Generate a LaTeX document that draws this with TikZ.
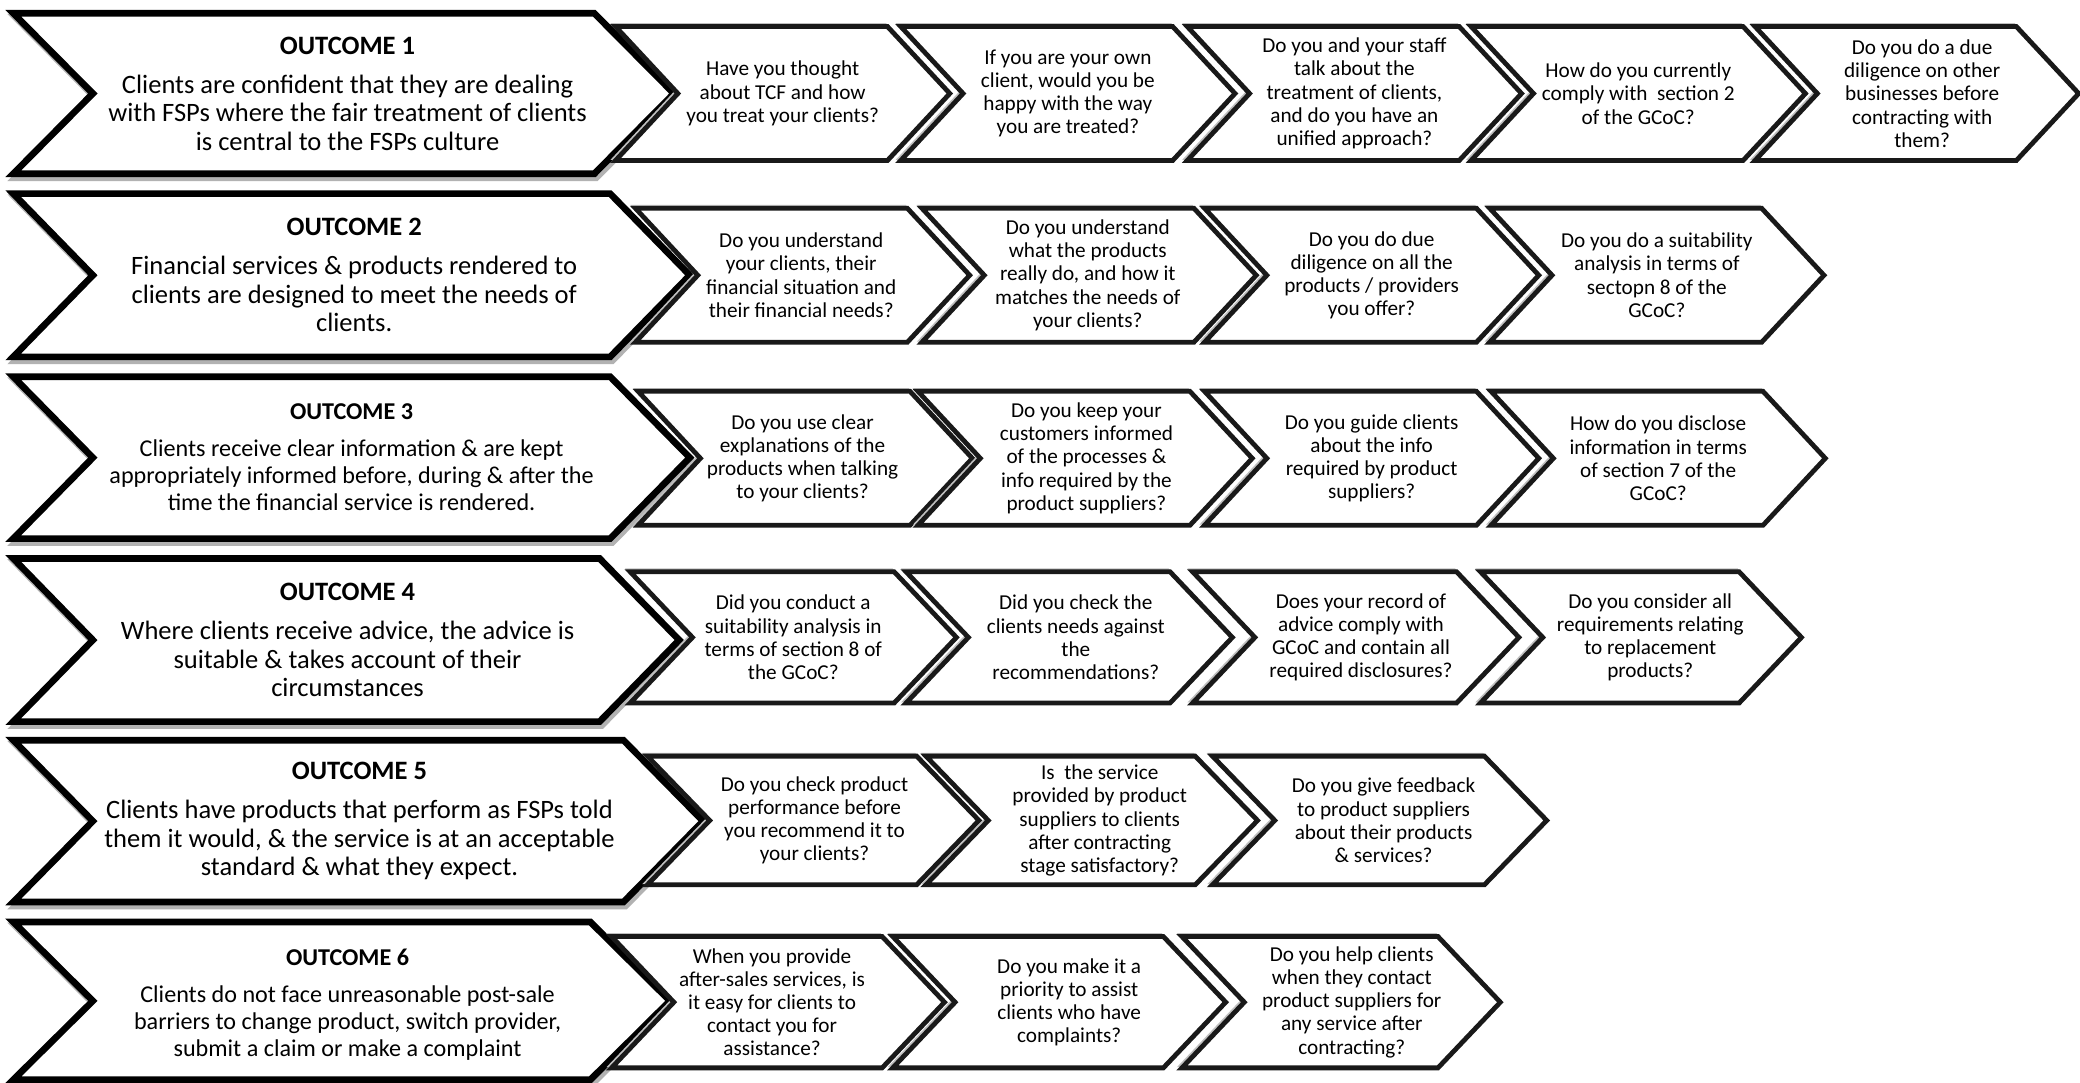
\documentclass[tikz,border=0pt]{standalone}
\usepackage{fontspec}
\setmainfont{Carlito}
\begin{document}
\begin{tikzpicture}[x=1pt,y=1pt,
  outc/.style={draw=black,fill=white,line width=5pt,line join=miter},
  outsh/.style={draw=black!30,line width=5pt,line join=miter},
  qc/.style={draw=black!90,fill=white,line width=3.6pt,line join=miter},
  qsh/.style={draw=black!25,line width=2pt,line join=miter},
  otext/.style={align=center,inner sep=0pt,font=\fontsize{20}{21.5}\selectfont},
  otextsm/.style={align=center,inner sep=0pt,font=\fontsize{18.2}{20.3}\selectfont},
  qtext/.style={align=center,inner sep=0pt,font=\fontsize{16}{17.5}\selectfont}]
\useasboundingbox[fill=white] (0,0) rectangle (1568,-816);
% #1 style, #2 left x, #3 top, #4 bottom, #5 width to tip, #6 point depth
\newcommand\chevshape[6]{%
  \pgfmathsetmacro\cxl{#2}%
  \pgfmathsetmacro\cyt{-(#3)}%
  \pgfmathsetmacro\cyb{-(#4)}%
  \pgfmathsetmacro\cym{-((#3)+(#4))/2}%
  \pgfmathsetmacro\cxr{#2+#5-#6}%
  \pgfmathsetmacro\cxt{#2+#5}%
  \pgfmathsetmacro\cxn{#2+#6}%
  \path[#1] (\cxl,\cyt) -- (\cxr,\cyt) -- (\cxt,\cym) -- (\cxr,\cyb) -- (\cxl,\cyb) -- (\cxn,\cym) -- cycle;}
\newcommand\outcome[3]{% top bottom width
  \begin{scope}[shift={(1.5,-3)}]\chevshape{outsh}{10}{#1}{#2}{#3}{60}\end{scope}
  \chevshape{outc}{10}{#1}{#2}{#3}{60}}
\newcommand\quest[4]{% left top bottom width
  \begin{scope}[shift={(-1.5,1.5)}]\chevshape{qsh}{#1}{#2}{#3}{#4}{47}\end{scope}
  \chevshape{qc}{#1}{#2}{#3}{#4}{47}}
% ---------- Row 1
\outcome{10}{131}{498}
\quest{464}{20}{121}{252}\quest{679}{20}{121}{252}\quest{895}{20}{121}{252}\quest{1109}{20}{121}{252}\quest{1323}{20}{121}{244}
\node[otext] (o1) at (262,-70.5) {\textbf{OUTCOME 1}\\[8pt]Clients are confident that they are dealing\\with FSPs where the fair treatment of clients\\is central to the FSPs culture};
\node[qtext] (q11) at (590,-70.5) {Have you thought\\about TCF and how\\you treat your clients?};
\node[qtext] (q12) at (805,-70.5) {If you are your own\\client, would you be\\happy with the way\\you are treated?};
\node[qtext] (q13) at (1021,-70.5) {Do you and your staff\\talk about the\\treatment of clients,\\and do you have an\\unified approach?};
\node[qtext] (q14) at (1235,-70.5) {How do you currently\\comply with\ \ section 2\\of the GCoC?};
\node[qtext] (q15) at (1449,-70.5) {Do you do a due\\diligence on other\\businesses before\\contracting with\\them?};
% ---------- Row 2
\outcome{146}{269}{510}
\quest{479}{157}{258}{252}\quest{695}{157}{258}{252}\quest{908}{157}{258}{252}\quest{1123}{157}{258}{252}
\node[otext] (o2) at (267,-207.5) {\textbf{OUTCOME 2}\\[8pt]Financial services \& products rendered to\\clients are designed to meet the needs of\\clients.};
\node[qtext] (q21) at (604,-207.5) {Do you understand\\your clients, their\\financial situation and\\their financial needs?};
\node[qtext] (q22) at (820,-207.5) {Do you understand\\what the products\\really do, and how it\\matches the needs of\\your clients?};
\node[qtext] (q23) at (1034,-207.5) {Do you do due\\diligence on all the\\products / providers\\you offer?};
\node[qtext] (q24) at (1249,-207.5) {Do you do a suitability\\analysis in terms of\\sectopn 8 of the\\GCoC?};
% ---------- Row 3
\outcome{284}{406}{510}
\quest{481}{295}{396}{252}\quest{692}{295}{396}{252}\quest{908}{295}{396}{252}\quest{1124}{295}{396}{252}
\node[otextsm] (o3) at (265,-344.5) {\textbf{OUTCOME 3}\\[7.5pt]Clients receive clear information \& are kept\\appropriately informed before, during \& after the\\time the financial service is rendered.};
\node[qtext] (q31) at (605,-345.5) {Do you use clear\\explanations of the\\products when talking\\to your clients?};
\node[qtext] (q32) at (819,-345.5) {Do you keep your\\customers informed\\of the processes \&\\info required by the\\product suppliers?};
\node[qtext] (q33) at (1034,-345.5) {Do you guide clients\\about the info\\required by product\\suppliers?};
\node[qtext] (q34) at (1250,-345.5) {How do you disclose\\information in terms\\of section 7 of the\\GCoC?};
% ---------- Row 4
\outcome{421}{544}{502}
\quest{475}{431}{530}{246}\quest{683}{431}{530}{246}\quest{899}{431}{530}{246}\quest{1116}{431}{530}{242}
\node[otext] (o4) at (262,-482.5) {\textbf{OUTCOME 4}\\[8pt]Where clients receive advice, the advice is\\suitable \& takes account of their\\circumstances};
\node[qtext] (q41) at (598,-480.5) {Did you conduct a\\suitability analysis in\\terms of section 8 of\\the GCoC?};
\node[qtext] (q42) at (811,-480.5) {Did you check the\\clients needs against\\the\\recommendations?};
\node[qtext] (q43) at (1026,-480.5) {Does your record of\\advice comply with\\GCoC and contain all\\required disclosures?};
\node[qtext] (q44) at (1244,-480.5) {Do you consider all\\requirements relating\\to replacement\\products?};
% ---------- Row 5
\outcome{558}{680}{520}
\quest{488}{570}{667}{250}\quest{698}{570}{667}{250}\quest{914}{570}{667}{252}
\node[otext] (o5) at (271,-619) {\textbf{OUTCOME 5}\\[8pt]Clients have products that perform as FSPs told\\them it would, \& the service is at an acceptable\\standard \& what they expect.};
\node[qtext] (q51) at (614,-618.5) {Do you check product\\performance before\\you recommend it to\\your clients?};
\node[qtext] (q52) at (829,-618.5) {Is\ \ the service\\provided by product\\suppliers to clients\\after contracting\\stage satisfactory?};
\node[qtext] (q53) at (1043,-618.5) {Do you give feedback\\to product suppliers\\about their products\\\& services?};
% ---------- Row 6
\outcome{695}{814}{495}
\quest{461}{706}{805}{251}\quest{673}{706}{805}{251}\quest{891}{706}{805}{240}
\node[otextsm] (o6) at (262,-757.5) {\textbf{OUTCOME 6}\\[7.5pt]Clients do not face unreasonable post-sale\\barriers to change product, switch provider,\\submit a claim or make a complaint};
\node[qtext] (q61) at (582,-755.5) {When you provide\\after-sales services, is\\it easy for clients to\\contact you for\\assistance?};
\node[qtext] (q62) at (806,-755.5) {Do you make it a\\priority to assist\\clients who have\\complaints?};
\node[qtext] (q63) at (1019,-755.5) {Do you help clients\\when they contact\\product suppliers for\\any service after\\contracting?};
\end{tikzpicture}
\end{document}
